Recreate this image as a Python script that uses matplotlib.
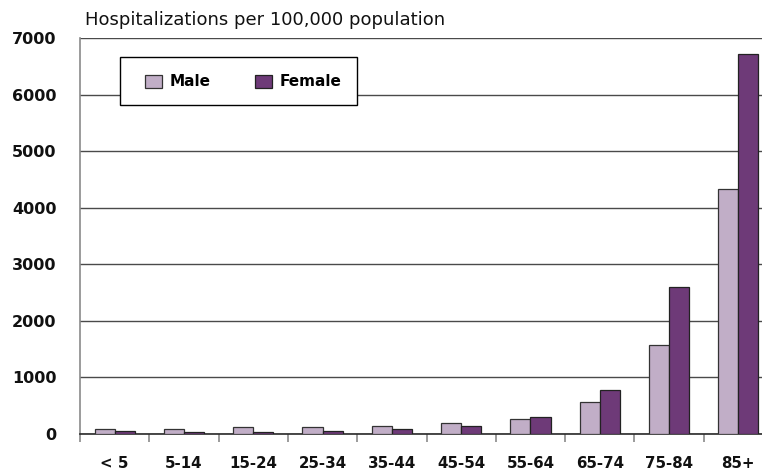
import matplotlib
matplotlib.use("Agg")
import matplotlib.pyplot as plt
from matplotlib.patches import Rectangle
import numpy as np

# Hospitalization rates per 100,000 population by age group and sex
age_groups = ["< 5", "5-14", "15-24", "25-34", "35-44", "45-54",
              "55-64", "65-74", "75-84", "85+"]
male = [83, 83, 118, 118, 141, 189, 270, 560, 1575, 4330]
female = [58, 40, 40, 58, 83, 136, 306, 783, 2600, 6715]

male_color = "#C1AEC7"
female_color = "#6E3A78"

plt.rcParams["font.family"] = ["DejaVu Sans"]

W, H = 762, 475
fig = plt.figure(figsize=(W / 100, H / 100), dpi=100)
ax = fig.add_axes([80 / W, 41 / H, 693 / W, 396 / H])

x = np.arange(len(age_groups))
w = 0.29
ax.bar(x - w / 2, male, w, color=male_color, edgecolor="#333333",
       linewidth=0.9, label="Male", zorder=3)
ax.bar(x + w / 2, female, w, color=female_color, edgecolor="#222222",
       linewidth=0.9, label="Female", zorder=3)

ax.set_xlim(-0.5, len(age_groups) - 0.5)
ax.set_ylim(0, 7000)
ax.set_yticks(np.arange(0, 7001, 1000))
ax.yaxis.grid(True, color="#4a4a4a", linewidth=1.0, zorder=0)
ax.set_axisbelow(True)

for s in ("top", "right"):
    ax.spines[s].set_visible(False)
ax.spines["left"].set_color("#8a8a8a")
ax.spines["left"].set_linewidth(1.2)
ax.spines["bottom"].set_color("#2a2a2a")
ax.spines["bottom"].set_linewidth(1.2)

# category labels centred, separator ticks between groups
ax.set_xticks(x)
ax.set_xticklabels(age_groups, fontsize=10.8, fontweight="bold", color="#111111")
ax.tick_params(axis="x", which="major", length=0, pad=16)
ax.set_xticks(np.arange(-0.5, len(age_groups)), minor=True)
ax.tick_params(axis="x", which="minor", length=6, width=1.2, color="#8a8a8a")

ax.tick_params(axis="y", length=0, pad=17)
for lbl in ax.get_yticklabels():
    lbl.set_fontsize(11.5)
    lbl.set_fontweight("bold")
    lbl.set_color("#111111")

fig.text(85 / W, 1 - 20 / H, "Hospitalizations per 100,000 population",
         fontsize=13, va="center", ha="left", color="#111111")

# legend: white box with a thin black border, entries placed inside it
box = Rectangle((120 / W, 1 - 105 / H), 237 / W, 48 / H,
                transform=fig.transFigure, facecolor="white",
                edgecolor="black", linewidth=1.0, zorder=4)
fig.patches.append(box)
handles, labels = ax.get_legend_handles_labels()
leg = fig.legend(handles, labels, loc="center left",
                 bbox_to_anchor=(145 / W, 1 - 82 / H), ncol=2,
                 frameon=False, borderaxespad=0, borderpad=0,
                 handlelength=1.1, handleheight=0.9, handletextpad=0.5,
                 columnspacing=2.9, prop={"weight": "bold", "size": 11})
leg.set_zorder(5)

fig.savefig("out.png", dpi=100)
